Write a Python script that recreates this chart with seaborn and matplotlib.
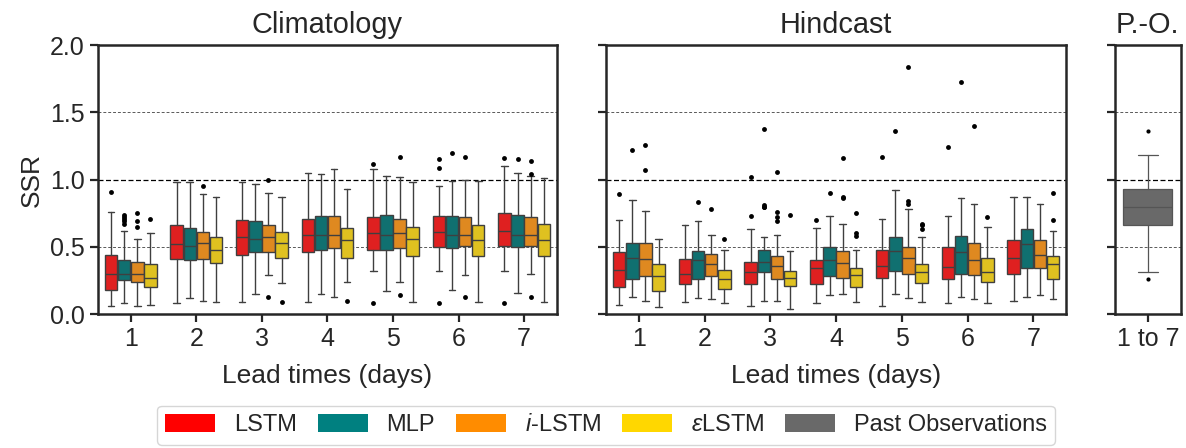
## Skill-spread ratio (SSR) box plots: climatology vs hindcast vs past observations

import matplotlib
matplotlib.use("Agg")
import matplotlib.pyplot as plt
from matplotlib.patches import Patch
import seaborn as sns

## categories
models = ["LSTM", "MLP", "i-LSTM", "eLSTM"]
legend_labels = ["LSTM", "MLP", r"$i$-LSTM", r"$\varepsilon$LSTM", "Past Observations"]
lead_times = [1, 2, 3, 4, 5, 6, 7]
model_colors = ["red", "teal", "darkorange", "gold"]
po_color = "dimgray"

## Climatology box statistics, one row per model, one value per lead time
clim_lo = [[0.06, 0.08, 0.09, 0.09, 0.32, 0.32, 0.32],
           [0.08, 0.12, 0.15, 0.15, 0.17, 0.18, 0.16],
           [0.06, 0.10, 0.29, 0.13, 0.24, 0.29, 0.30],
           [0.07, 0.09, 0.23, 0.24, 0.09, 0.09, 0.09]]
clim_q1 = [[0.18, 0.41, 0.44, 0.46, 0.48, 0.50, 0.51],
           [0.25, 0.40, 0.46, 0.48, 0.48, 0.49, 0.50],
           [0.24, 0.41, 0.46, 0.49, 0.49, 0.51, 0.51],
           [0.20, 0.38, 0.42, 0.42, 0.43, 0.43, 0.43]]
clim_med = [[0.30, 0.52, 0.57, 0.59, 0.60, 0.61, 0.62],
            [0.30, 0.51, 0.56, 0.59, 0.59, 0.59, 0.59],
            [0.30, 0.53, 0.57, 0.59, 0.60, 0.59, 0.59],
            [0.27, 0.48, 0.53, 0.55, 0.56, 0.55, 0.55]]
clim_q3 = [[0.44, 0.66, 0.70, 0.71, 0.72, 0.73, 0.75],
           [0.40, 0.64, 0.69, 0.73, 0.74, 0.73, 0.74],
           [0.39, 0.61, 0.66, 0.73, 0.71, 0.72, 0.72],
           [0.37, 0.57, 0.61, 0.64, 0.65, 0.66, 0.67]]
clim_hi = [[0.76, 0.98, 0.98, 1.05, 1.08, 0.95, 1.10],
           [0.62, 0.98, 0.97, 1.04, 1.03, 0.99, 1.05],
           [0.56, 0.89, 0.90, 1.08, 1.02, 1.00, 1.03],
           [0.60, 0.87, 0.87, 0.93, 0.98, 0.99, 1.01]]
clim_fliers = [[[0.91], [], [], [], [1.12, 0.08], [1.15, 1.09, 0.08], [1.16, 0.08]],
               [[0.74, 0.72, 0.71, 0.69, 0.67], [], [], [], [], [1.20], [1.15]],
               [[0.75, 0.69, 0.65], [0.95], [1.00, 0.13], [], [1.17, 0.14], [1.17, 0.13], [1.14, 1.04, 0.13]],
               [[0.71], [], [0.09], [0.10], [], [], []]]

## Hindcast box statistics
hind_lo = [[0.07, 0.09, 0.06, 0.08, 0.06, 0.08, 0.10],
           [0.13, 0.12, 0.10, 0.14, 0.15, 0.13, 0.13],
           [0.10, 0.11, 0.10, 0.15, 0.12, 0.11, 0.14],
           [0.05, 0.08, 0.04, 0.09, 0.09, 0.08, 0.11]]
hind_q1 = [[0.20, 0.22, 0.22, 0.22, 0.27, 0.26, 0.30],
           [0.26, 0.26, 0.31, 0.28, 0.32, 0.30, 0.34],
           [0.28, 0.28, 0.26, 0.27, 0.30, 0.29, 0.34],
           [0.17, 0.19, 0.21, 0.20, 0.23, 0.24, 0.26]]
hind_med = [[0.33, 0.30, 0.31, 0.34, 0.36, 0.35, 0.42],
            [0.42, 0.40, 0.39, 0.40, 0.47, 0.46, 0.52],
            [0.41, 0.37, 0.36, 0.38, 0.42, 0.40, 0.44],
            [0.28, 0.26, 0.27, 0.29, 0.31, 0.31, 0.37]]
hind_q3 = [[0.46, 0.41, 0.39, 0.40, 0.48, 0.50, 0.55],
           [0.53, 0.47, 0.48, 0.50, 0.57, 0.58, 0.63],
           [0.53, 0.45, 0.43, 0.47, 0.50, 0.53, 0.55],
           [0.37, 0.33, 0.32, 0.34, 0.37, 0.42, 0.43]]
hind_hi = [[0.70, 0.66, 0.63, 0.64, 0.71, 0.73, 0.87],
           [0.85, 0.69, 0.57, 0.73, 0.92, 0.86, 0.87],
           [0.77, 0.59, 0.59, 0.67, 0.78, 0.82, 0.82],
           [0.56, 0.48, 0.47, 0.48, 0.57, 0.65, 0.62]]
hind_fliers = [[[0.89], [], [0.73, 1.02], [0.70], [1.17], [1.24], []],
               [[1.22], [0.83], [1.38, 0.81, 0.80, 0.80], [0.90], [1.36], [1.73], []],
               [[1.26, 1.07], [0.78], [1.06, 0.76, 0.72, 0.69], [1.16, 0.87, 0.86], [1.84, 0.84, 0.82], [1.40], []],
               [[], [0.56], [0.74], [0.75, 0.60, 0.58], [0.67, 0.66, 0.63], [0.72], [0.90, 0.70]]]

## Past observations (all lead times pooled)
po_label = "1 to 7"
po_lo, po_q1, po_med, po_q3, po_hi = 0.31, 0.66, 0.80, 0.93, 1.18
po_fliers = [1.36, 0.26]

## style
sns.set_theme(style="ticks")
plt.rcParams['font.family'] = ['Liberation Sans', 'DejaVu Sans']
plt.rcParams['mathtext.fontset'] = 'custom'
plt.rcParams['mathtext.rm'] = 'Liberation Sans'
plt.rcParams['mathtext.it'] = 'Liberation Sans:italic'

edge = "#3f3f3f"
line_kw = dict(color=edge, linewidth=1.0)
flier_kw = dict(marker='o', markersize=3.5, markerfacecolor='black',
                markeredgecolor='black', markeredgewidth=0)


def make_stats(lo, q1, med, q3, hi, fl):
    return dict(whislo=lo, q1=q1, med=med, q3=q3, whishi=hi, fliers=fl)


def draw_panel(ax, lo, q1, med, q3, hi, fl):
    offsets = [-0.3, -0.1, 0.1, 0.3]
    for m in range(len(models)):
        stats = [make_stats(lo[m][i], q1[m][i], med[m][i], q3[m][i], hi[m][i], fl[m][i])
                 for i in range(len(lead_times))]
        pos = [t + offsets[m] for t in lead_times]
        ax.bxp(stats, positions=pos, widths=0.19, capwidths=0.1, patch_artist=True,
               boxprops=dict(facecolor=sns.desaturate(model_colors[m], 0.75),
                             edgecolor=edge, linewidth=1.0),
               medianprops=line_kw, whiskerprops=line_kw, capprops=line_kw,
               flierprops=flier_kw, manage_ticks=False)
    ax.set_xticks(lead_times)
    ax.set_xticklabels([str(t) for t in lead_times])
    ax.set_xlim(0.5, 7.5)


def style_axis(ax):
    ax.set_ylim(0, 2.0)
    ax.set_yticks([0.0, 0.5, 1.0, 1.5, 2.0])
    for y in [0.5, 1.5]:
        ax.axhline(y, color='0.35', linestyle=(0, (3, 2)), linewidth=0.7, zorder=0)
    ax.axhline(1.0, color='black', linestyle=(0, (4, 2)), linewidth=0.9, zorder=0)
    for s in ax.spines.values():
        s.set_linewidth(1.8)
        s.set_color('#262626')
    ax.tick_params(axis='both', length=6, width=1.6, color='#262626',
                   labelsize=18, labelcolor='#262626')


fig = plt.figure(figsize=(11.86, 4.48), dpi=100)
ax1 = fig.add_axes([0.0826, 0.299, 0.387, 0.600])
ax2 = fig.add_axes([0.511, 0.299, 0.388, 0.600])
ax3 = fig.add_axes([0.940, 0.299, 0.0557, 0.600])

draw_panel(ax1, clim_lo, clim_q1, clim_med, clim_q3, clim_hi, clim_fliers)
draw_panel(ax2, hind_lo, hind_q1, hind_med, hind_q3, hind_hi, hind_fliers)

## past observations panel
po_line = dict(color='#555555', linewidth=0.9)
ax3.bxp([make_stats(po_lo, po_q1, po_med, po_q3, po_hi, po_fliers)], positions=[0],
        widths=0.74, capwidths=0.3, patch_artist=True,
        boxprops=dict(facecolor=sns.desaturate(po_color, 0.75), edgecolor='#555555', linewidth=0.9),
        medianprops=po_line, whiskerprops=po_line, capprops=po_line,
        flierprops=dict(flier_kw, markersize=3), manage_ticks=False)
ax3.set_xticks([0])
ax3.set_xticklabels([po_label])
ax3.set_xlim(-0.5, 0.5)

for ax in [ax1, ax2, ax3]:
    style_axis(ax)
ax2.set_yticklabels([])
ax3.set_yticklabels([])

ax1.set_title("Climatology", fontsize=20.8, pad=9, color='#262626')
ax2.set_title("Hindcast", fontsize=20.8, pad=9, color='#262626')
ax3.set_title("P.-O.", fontsize=20.8, pad=9, color='#262626')
ax1.set_xlabel("Lead times (days)", fontsize=19, color='#262626', labelpad=9)
ax2.set_xlabel("Lead times (days)", fontsize=19, color='#262626', labelpad=9)
ax1.set_ylabel("SSR", fontsize=19, color='#262626')

## legend with pure colours
handles = [Patch(facecolor=c, edgecolor='none') for c in model_colors + [po_color]]
fig.legend(handles, legend_labels, loc='center', bbox_to_anchor=(0.511, 0.051),
           ncol=5, fontsize=17, frameon=True, edgecolor='0.8', fancybox=True,
           handlelength=2.1, handleheight=0.8, columnspacing=0.9, handletextpad=0.8,
           borderpad=0.35)

fig.savefig("out.png", dpi=100)
